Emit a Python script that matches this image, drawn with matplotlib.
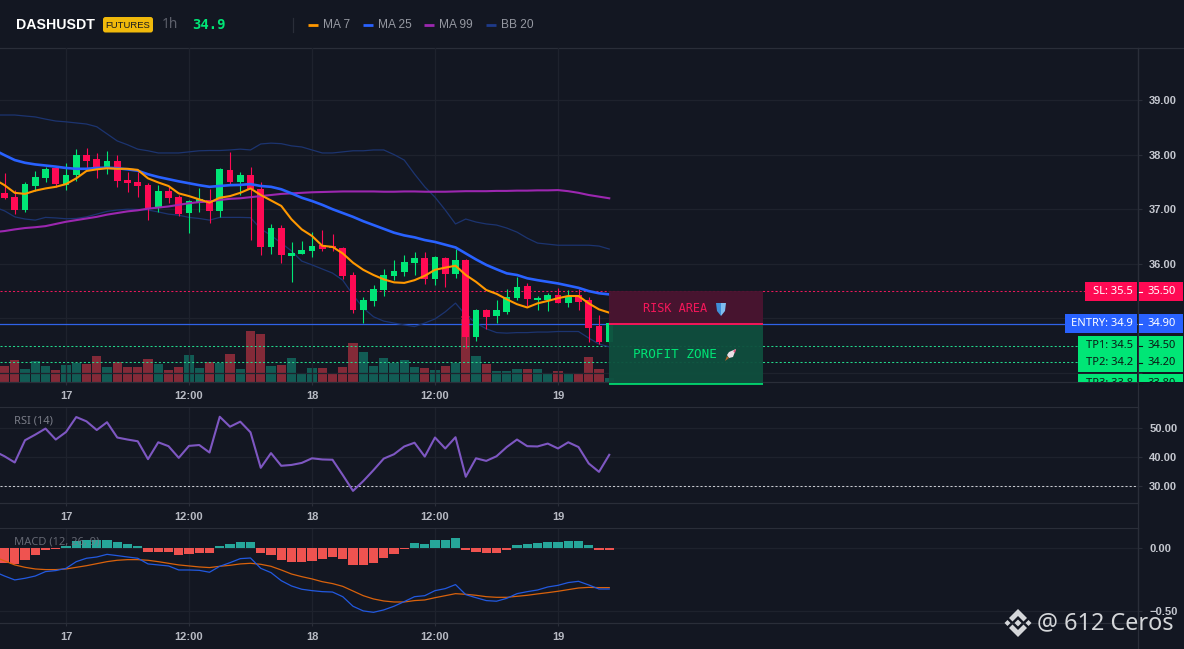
import numpy as np
import matplotlib
matplotlib.use('Agg')
import matplotlib.pyplot as plt
from matplotlib.patches import Rectangle, Polygon, FancyBboxPatch
from matplotlib.transforms import Affine2D, Bbox

plt.rcParams['font.family'] = ['Noto Sans', 'DejaVu Sans']

# candles, first one sits left of "17"
candle_open = [37.29,37.22,36.985,37.425,37.57,37.75,37.44,37.63,37.99,37.92,37.73,37.88,37.535,37.50,37.44,37.02,37.33,37.22,36.93,37.12,
               37.16,36.97,37.72,37.50,37.63,37.37,36.30,36.66,36.14,36.18,36.234,36.344,36.325,36.29,35.795,35.15,35.32,35.52,35.777,35.85,
               36.01,36.106,35.72,36.106,35.813,36.07,34.66,35.15,35.04,35.117,35.373,35.593,35.337,35.337,35.428,35.282,35.428,35.337,34.86,34.57]
candle_high = [37.67,37.36,37.50,37.70,37.78,37.79,37.84,38.10,38.13,38.03,38.07,37.99,37.69,37.69,37.475,37.44,37.41,37.26,37.16,37.38,
               37.365,37.76,38.05,37.68,37.77,37.50,36.73,36.71,36.405,36.42,36.576,36.62,36.545,36.30,35.85,35.39,35.605,35.91,36.07,36.16,
               36.216,36.216,36.14,36.13,36.27,36.08,35.18,35.17,35.34,35.54,35.764,35.642,35.41,35.459,35.557,35.52,35.53,35.39,35.06,34.93]
candle_low = [37.19,36.91,36.94,37.34,37.50,37.41,37.35,37.52,37.75,37.58,37.65,37.40,37.315,37.23,36.80,36.94,37.11,36.875,36.57,36.95,
              36.75,36.86,37.44,37.26,36.44,36.16,36.18,36.015,35.67,36.18,36.13,36.24,36.24,35.73,35.10,34.91,35.227,35.41,35.70,35.777,
              35.795,35.63,35.61,35.58,35.74,34.458,34.586,34.805,34.915,35.08,35.337,35.227,35.15,35.135,35.276,35.2,35.15,34.567,34.53,34.55]
candle_close = [37.20,36.985,37.46,37.59,37.74,37.46,37.63,37.99,37.88,37.77,37.88,37.52,37.475,37.425,37.02,37.33,37.20,36.91,37.15,37.18,
                36.97,37.74,37.50,37.63,37.37,36.30,36.66,36.16,36.20,36.25,36.326,36.265,36.29,35.78,35.15,35.337,35.54,35.795,35.868,36.03,
                36.106,35.72,36.124,35.813,36.07,34.66,35.15,35.025,35.15,35.39,35.575,35.355,35.373,35.428,35.276,35.392,35.30,34.824,34.567,34.91]
volume = [16.3,22.3,13.3,21.3,16.3,12.3,17.3,19.3,18.3,26.3,15.3,20,15.3,15.3,23.3,18.3,12.3,15.3,27.3,14.3,
          20,19.3,28.3,13.3,51.3,48.3,16.3,17.3,24.3,9.3,14.3,14.3,9.3,15.3,39.3,30.3,16.3,24.3,19.3,22.3,
          15.3,14.3,12.3,16.3,19.3,66.3,26.3,18.3,11.3,11.3,13.3,13.3,13.3,8.3,11.3,9.3,8.3,25.3,13.3,4.3]

# indicators start one candle earlier so they run off the left edge
ma7 = [37.55,37.44,37.30,37.28,37.34,37.38,37.41,37.46,37.565,37.70,37.73,37.75,37.74,37.74,37.72,37.565,37.49,37.425,37.29,37.24,37.18,
       37.12,37.21,37.24,37.30,37.38,37.26,37.16,37.06,36.815,36.63,36.51,36.33,36.31,36.19,36.02,35.89,35.795,35.715,35.66,35.65,
       35.70,35.78,35.89,35.93,35.965,35.795,35.67,35.52,35.45,35.35,35.26,35.20,35.275,35.32,35.37,35.41,35.41,35.275,35.165,35.105]
ma25 = [38.085,37.99,37.90,37.85,37.82,37.80,37.78,37.755,37.74,37.74,37.755,37.76,37.75,37.73,37.705,37.64,37.59,37.55,37.51,37.475,37.44,
        37.41,37.425,37.44,37.445,37.46,37.425,37.41,37.365,37.29,37.21,37.15,37.08,37.0,36.93,36.86,36.78,36.71,36.64,36.57,36.52,
        36.485,36.435,36.40,36.35,36.30,36.19,36.08,35.98,35.90,35.825,35.795,35.735,35.70,35.67,35.64,35.60,35.56,35.50,35.46,35.44]
ma99 = [36.58,36.60,36.63,36.655,36.67,36.69,36.73,36.77,36.80,36.83,36.86,36.90,36.93,36.96,36.98,37.01,37.03,37.05,37.08,37.11,37.13,
        37.14,37.17,37.19,37.20,37.22,37.24,37.26,37.28,37.29,37.30,37.31,37.315,37.32,37.325,37.325,37.325,37.325,37.32,37.32,37.325,
        37.325,37.32,37.32,37.32,37.325,37.33,37.33,37.33,37.335,37.335,37.34,37.34,37.345,37.345,37.35,37.33,37.30,37.26,37.23,37.20]
bb_up = [38.725,38.725,38.725,38.707,38.69,38.65,38.615,38.60,38.58,38.56,38.51,38.38,38.25,38.18,38.10,38.07,38.03,38.03,38.03,38.05,38.07,
         38.075,38.075,38.085,38.10,38.085,38.195,38.21,38.20,38.16,38.14,38.085,38.03,38.03,38.05,38.07,38.07,38.085,38.085,38.0,37.90,
         37.645,37.41,37.22,36.985,36.73,36.82,36.765,36.73,36.71,36.655,36.58,36.47,36.38,36.36,36.34,36.34,36.34,36.34,36.325,36.27]
bb_low = [37.04,36.97,36.86,36.82,36.80,36.85,36.84,36.825,36.83,36.86,36.91,36.96,36.985,37.0,36.995,36.985,36.95,36.91,36.89,36.85,36.83,
          36.80,36.85,36.85,36.85,36.845,36.64,36.52,36.38,36.235,36.05,35.98,35.905,35.83,35.70,35.43,35.19,35.03,34.95,34.915,34.88,
          34.85,34.915,34.99,35.12,35.28,35.06,34.915,34.81,34.74,34.73,34.74,34.74,34.75,34.75,34.76,34.76,34.76,34.64,34.53,34.48]
rsi = [42,40.2,38.05,45.75,47.7,49.8,46.0,48.6,53.8,52.3,49.3,52.0,46.7,46.0,45.4,39.2,45.05,43.7,39.65,43.8,44.1,
       41.5,53.9,50.45,52.2,48.5,36.2,41.3,36.9,37.2,37.9,39.5,39.1,39.0,33.7,28.2,31.6,35.4,39.4,40.9,43.6,
       44.9,40.1,46.7,42.9,46.8,33.1,39.5,38.6,40.2,43.4,46.0,43.7,43.6,44.6,42.9,45.05,43.4,37.7,34.8,40.7]
macd_hist = [-0.11,-0.114,-0.127,-0.093,-0.053,-0.013,-0.005,0.019,0.058,0.066,0.066,0.066,0.048,0.034,0.019,-0.026,-0.029,-0.029,-0.053,-0.045,-0.037,
             -0.037,0.019,0.034,0.05,0.05,-0.037,-0.053,-0.093,-0.108,-0.108,-0.10,-0.085,-0.069,-0.085,-0.132,-0.132,-0.116,-0.077,-0.045,-0.005,
             0.042,0.034,0.066,0.066,0.082,-0.013,-0.029,-0.037,-0.037,-0.016,0.026,0.034,0.042,0.05,0.05,0.058,0.058,0.026,-0.013,-0.013]
macd_line = [-0.185,-0.22,-0.251,-0.238,-0.22,-0.185,-0.177,-0.159,-0.106,-0.079,-0.069,-0.048,-0.058,-0.069,-0.079,-0.124,-0.132,-0.14,-0.172,-0.172,-0.175,
             -0.19,-0.143,-0.114,-0.082,-0.077,-0.159,-0.193,-0.257,-0.299,-0.325,-0.336,-0.344,-0.347,-0.384,-0.46,-0.497,-0.508,-0.489,-0.46,-0.423,
             -0.384,-0.376,-0.336,-0.32,-0.288,-0.368,-0.392,-0.415,-0.42,-0.397,-0.36,-0.344,-0.331,-0.307,-0.294,-0.272,-0.262,-0.291,-0.323,-0.323]
macd_signal = [-0.066,-0.10,-0.132,-0.151,-0.164,-0.169,-0.169,-0.164,-0.151,-0.138,-0.122,-0.106,-0.095,-0.09,-0.09,-0.095,-0.106,-0.119,-0.132,-0.14,-0.148,
               -0.153,-0.143,-0.135,-0.124,-0.119,-0.127,-0.143,-0.172,-0.204,-0.225,-0.243,-0.265,-0.28,-0.302,-0.339,-0.376,-0.402,-0.418,-0.426,-0.426,
               -0.415,-0.41,-0.392,-0.376,-0.36,-0.365,-0.373,-0.384,-0.389,-0.389,-0.381,-0.373,-0.362,-0.352,-0.341,-0.328,-0.315,-0.31,-0.312,-0.312]

time_ticks = [0, 12, 24, 36, 48]
time_labels = ['17', '12:00', '18', '12:00', '19']
price_ticks = [34, 35, 36, 37, 38, 39]
rsi_ticks = [30, 40, 50]
macd_ticks = [-0.5, 0]

BG = '#131722'
GRID = '#1e222d'
BORDER = '#2a2e39'
TXT = '#b8bbc4'
GREEN = '#00e676'
RED = '#ff0a54'
W, H = 1184, 649
SANS = 'Liberation Sans'

fig = plt.figure(figsize=(W/100, H/100), dpi=100, facecolor=BG)
# pixel coordinates of the picture, y going down
PX = Affine2D().scale(1, -1).translate(0, H)

def pane(top, bottom):
    a = fig.add_axes([0, 1-bottom/H, 1138/W, (bottom-top)/H], facecolor=BG)
    a.set_xlim(-66/10.25, (1138-66)/10.25)
    a.set_xticks(time_ticks)
    a.set_xticklabels(time_labels, family=SANS, fontweight='bold')
    a.grid(True, color=GRID, lw=0.9)
    a.set_axisbelow(True)
    a.yaxis.tick_right()
    a.tick_params(axis='x', colors=BORDER, labelcolor=TXT, labelsize=8, length=2, width=0.8, pad=4.5)
    a.tick_params(axis='y', colors=BORDER, labelcolor='#c4c7cf', labelsize=8, length=3, width=0.8, pad=5)
    for s in ['top', 'left']:
        a.spines[s].set_visible(False)
    for s in ['bottom', 'right']:
        a.spines[s].set_color(BORDER)
        a.spines[s].set_linewidth(0.9)
    return a

def ylabels(a, labels):
    a.set_yticklabels(labels, family=SANS, fontweight='bold')

idx = np.arange(-6, 54)
idx_line = np.arange(-7, 54)
o = np.array(candle_open)
c = np.array(candle_close)
up = c >= o
cols = [GREEN if u else RED for u in up]

ax = pane(48, 382)
ax.set_ylim(39-282/54.6, 39+52/54.6)
ax.set_yticks(price_ticks)
# 34 and 35 lie under the tags
ylabels(ax, ['' if p < 36 else '%.2f' % p for p in price_ticks])

# volume sits in its own axes under the candles
vol = ax.twinx()
vol.set_ylim(0, 334)
vol.set_yticks([])
for s in vol.spines.values():
    s.set_visible(False)
vol.bar(idx, volume, width=0.9, color=['#125c55' if u else '#832a38' for u in up], zorder=2)
vol.set_facecolor(BG)
vol.set_zorder(1)
ax.set_zorder(2)
ax.patch.set_visible(False)
ax.yaxis.tick_right()

ax.axhline(35.5, color='#e8175a', lw=0.75, dashes=(2, 2), zorder=2)
ax.axhline(34.9, color='#2f62e8', lw=0.9, zorder=2)
ax.axhline(34.5, color='#22d68a', lw=0.75, dashes=(2, 2), zorder=2)
ax.axhline(34.2, color='#22d68a', lw=0.75, dashes=(2, 2), zorder=2)

ax.plot(idx_line, bb_up, color='#1c3470', lw=0.9, zorder=3)
ax.plot(idx_line, bb_low, color='#1c3470', lw=0.9, zorder=3)
ax.vlines(idx, candle_low, candle_high, colors=cols, lw=0.8, zorder=4)
ax.bar(idx, np.abs(c-o), bottom=np.minimum(o, c), width=0.65, color=cols, zorder=5)
ax.plot(idx_line, ma99, color='#9c27b0', lw=1.5, zorder=6)
ax.plot(idx_line, ma25, color='#2962ff', lw=1.9, zorder=6)
ax.plot(idx_line, ma7, color='#ff9800', lw=1.5, zorder=7)

# risk / profit boxes
box_left = (609-66)/10.25
box_w = (763-609)/10.25
ax.add_patch(Rectangle((box_left, 34.9), box_w, 0.6, facecolor='#4a1430', alpha=0.95, edgecolor='none', zorder=8))
ax.add_patch(Rectangle((box_left, 33.8), box_w, 1.1, facecolor='#0f4f3e', alpha=0.95, edgecolor='none', zorder=8, clip_on=False))
ax.plot([box_left, box_left+box_w], [34.9, 34.9], color='#f5175a', lw=1.4, zorder=9, solid_capstyle='butt')
ax.plot([box_left, box_left+box_w], [33.8, 33.8], color=GREEN, lw=1.2, zorder=9, clip_on=False, solid_capstyle='butt')
ax.text(675, 309, 'RISK AREA', transform=PX, color='#f5175a', family='DejaVu Sans Mono', fontsize=8.6, ha='center', va='center', zorder=10)
ax.text(675, 355, 'PROFIT ZONE', transform=PX, color=GREEN, family='DejaVu Sans Mono', fontsize=9.1, ha='center', va='center', zorder=10)

# shield and rocket
ax.add_patch(Polygon([(716, 303), (721, 303), (721, 316), (717, 311)], transform=PX, facecolor='#3f8fd8', edgecolor='none', clip_on=False, zorder=10))
ax.add_patch(Polygon([(721, 303), (726, 303), (725, 311), (721, 316)], transform=PX, facecolor='#7fbdf0', edgecolor='none', clip_on=False, zorder=10))
ax.add_patch(Polygon([(736, 349), (733, 357), (729, 358), (727, 355), (729, 352)], transform=PX, facecolor='#ecdfe6', edgecolor='none', zorder=10))
ax.add_patch(Polygon([(736, 349), (733, 351), (735, 353)], transform=PX, facecolor='#e8507a', edgecolor='none', zorder=11))
ax.add_patch(Polygon([(727, 356), (729, 358), (725, 361)], transform=PX, facecolor='#b5652a', edgecolor='none', zorder=10))

# tags on the price scale
tags = [('SL: 35.5', '35.50', 1085, 282, 301, RED, '#ffffff'),
        ('ENTRY: 34.9', '34.90', 1065, 314, 333, '#2962ff', '#ffffff'),
        ('TP1: 34.5', '34.50', 1078, 336, 354, GREEN, '#0c1a16'),
        ('TP2: 34.2', '34.20', 1078, 353, 372, GREEN, '#0c1a16'),
        ('TP3: 33.8', '33.80', 1078, 374, 382, GREEN, '#0c1a16')]
for name, val, x0, y0, y1, fc, tc in tags:
    ax.add_patch(Rectangle((x0, y0), 1137-x0, y1-y0, transform=PX, facecolor=fc, edgecolor='none', clip_on=False, zorder=12))
    ax.add_patch(Rectangle((1139, y0), 44, y1-y0, transform=PX, facecolor=fc, edgecolor='none', clip_on=False, zorder=12))
    ymid = y0+9.5
    clip = Bbox([[x0, H-382], [W, H-y0]])
    t1 = ax.text(1133, ymid, name, transform=PX, color=tc, fontsize=8, ha='right', va='center', zorder=13)
    t2 = ax.text(1148, ymid, val, transform=PX, color=tc, fontsize=8, ha='left', va='center', zorder=13)
    for t in (t1, t2):
        t.set_clip_box(clip)
        t.set_clip_on(True)
    ax.plot([1139, 1142], [ymid, ymid], transform=PX, color=tc, lw=0.8, clip_on=False, zorder=13)

# RSI pane
ax_rsi = pane(407, 503)
ax_rsi.set_ylim(50-75/2.885, 50+21/2.885)
ax_rsi.set_yticks(rsi_ticks)
ylabels(ax_rsi, ['%.2f' % v for v in rsi_ticks])
ax_rsi.axhline(30, color='#c8cad0', lw=0.75, dashes=(2, 2), zorder=2)
ax_rsi.plot(idx_line, rsi, color='#7e57c2', lw=1.5, zorder=3)
ax_rsi.spines['top'].set_visible(True)
ax_rsi.spines['top'].set_color(BORDER)
ax_rsi.text(14, 421, 'RSI (14)', transform=PX, color='#787b86', fontsize=8, va='center')

# MACD pane
ax_macd = pane(528, 623)
ax_macd.set_ylim(-74.7/126, 20.3/126)
ax_macd.set_yticks(macd_ticks)
ylabels(ax_macd, ['\u22120.50', '0.00'])
hist_cols = ['#26a69a' if v >= 0 else '#ef5350' for v in macd_hist]
ax_macd.bar(idx_line, macd_hist, width=0.88, color=hist_cols, zorder=2)
ax_macd.plot(idx_line, macd_signal, color='#d9620c', lw=0.9, zorder=3)
ax_macd.plot(idx_line, macd_line, color='#2259e0', lw=0.9, zorder=4)
ax_macd.spines['top'].set_visible(True)
ax_macd.spines['top'].set_color(BORDER)
ax_macd.text(14, 542, 'MACD (12, 26, 9)', transform=PX, color='#787b86', alpha=0.8, fontsize=8, va='center', zorder=5)

# header and the price scale line through all panes
fig.add_artist(plt.Line2D([0, W], [48, 48], transform=PX, color=BORDER, lw=0.9))
fig.add_artist(plt.Line2D([1138, 1138], [48, H], transform=PX, color=BORDER, lw=0.9))
fig.text(16, 25, 'DASHUSDT', transform=PX, color='#ffffff', family=SANS, fontsize=10.2, fontweight='bold', va='center')
fig.add_artist(FancyBboxPatch((105, 19), 46, 11.5, boxstyle='round,pad=2,rounding_size=2.5', transform=PX, facecolor='#f0b90b', edgecolor='none'))
fig.text(128, 25, 'FUTURES', transform=PX, color='#16181f', family=SANS, fontsize=6.8, ha='center', va='center')
fig.text(162, 25, '1h', transform=PX, color='#5d606b', fontsize=10, va='center')
fig.text(192, 25, '34.9', transform=PX, color=GREEN, family='DejaVu Sans Mono', fontsize=10, fontweight='bold', va='center')
fig.add_artist(plt.Line2D([292.5, 292.5], [18, 32], transform=PX, color=BORDER, lw=0.9))

legend_names = ['MA 7', 'MA 25', 'MA 99', 'BB 20']
legend_x = [308, 363, 424, 486]
legend_cols = ['#ff9800', '#2962ff', '#9c27b0', '#1e3a8a']
for name, lx, lc in zip(legend_names, legend_x, legend_cols):
    fig.add_artist(plt.Line2D([lx, lx+10], [24.5, 24.5], transform=PX, color=lc, lw=2, solid_capstyle='butt'))
    fig.text(lx+15, 25, name, transform=PX, color='#9598a1', family=SANS, fontsize=8.6, va='center')

# watermark
cx, cy = 1018, 623
logo = [[(0, -14), (9, -5), (5.5, -1.5), (0, -7), (-5.5, -1.5), (-9, -5)],
        [(0, 14), (9, 5), (5.5, 1.5), (0, 7), (-5.5, 1.5), (-9, 5)],
        [(0, -3.5), (3.5, 0), (0, 3.5), (-3.5, 0)],
        [(-10.5, -3), (-7.5, 0), (-10.5, 3), (-13.5, 0)],
        [(10.5, -3), (13.5, 0), (10.5, 3), (7.5, 0)]]
for shape in logo:
    fig.add_artist(Polygon([(cx+a, cy+b) for a, b in shape], transform=PX, facecolor='#d4d6d9', edgecolor='none'))
fig.text(1037, 623, '@ 612 Ceros', transform=PX, color='#d4d6d9', fontsize=16.8, va='center')

fig.savefig('out.png', dpi=100, facecolor=BG)
